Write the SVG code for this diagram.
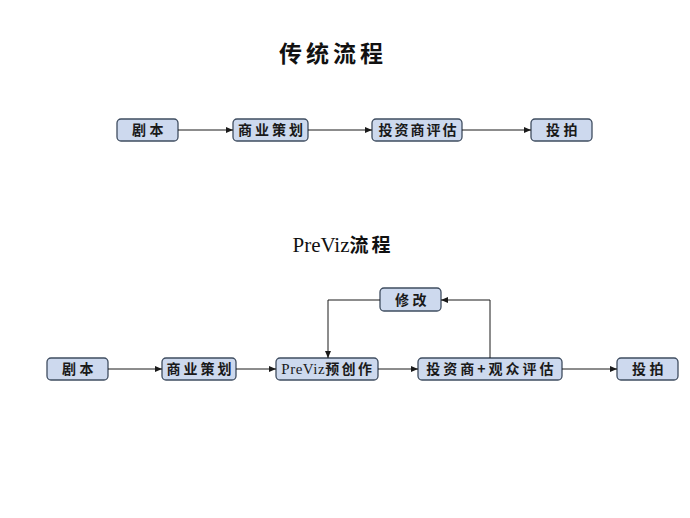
<svg xmlns="http://www.w3.org/2000/svg" width="690" height="518" viewBox="0 0 690 518">
<defs>
<marker id="ah" markerWidth="7" markerHeight="6" refX="7" refY="3" orient="auto" markerUnits="userSpaceOnUse">
<path d="M0,0 L7,3 L0,6 Z" fill="#1a1a1a"/>
</marker>
</defs>
<style>
.box{fill:#cdd9ee;stroke:#3f4d60;stroke-width:1.3}
.lbl{font-family:"Noto Sans CJK SC","Liberation Sans",sans-serif;font-weight:bold;font-size:14px;fill:#1a1a1a;text-anchor:middle;letter-spacing:3.5px}
.pv{font-family:"Liberation Serif",serif;font-weight:normal}
.ttl{font-family:"Noto Sans CJK SC","Liberation Sans",sans-serif;font-weight:bold;font-size:23px;fill:#111;text-anchor:middle;letter-spacing:4px}
.conn path{fill:none;stroke:#1a1a1a;stroke-width:1;marker-end:url(#ah)}
</style>
<rect width="690" height="518" fill="#ffffff"/>
<text class="ttl" x="333" y="62">传统流程</text>
<text class="ttl" x="343" y="252" style="font-size:19px;letter-spacing:3px"><tspan class="pv" style="font-size:21px;letter-spacing:0px">PreViz</tspan>流程</text>

<g id="t1"><rect class="box" x="117" y="119" width="61" height="22" rx="4"/><text class="lbl" x="149.5" y="135">剧本</text></g>
<g id="t2"><rect class="box" x="233" y="119" width="75" height="22" rx="4"/><text class="lbl" x="272" y="135" style="letter-spacing:3px">商业策划</text></g>
<g id="t3"><rect class="box" x="372" y="119" width="90" height="22" rx="4"/><text class="lbl" x="418.5" y="135" style="letter-spacing:2px">投资商评估</text></g>
<g id="t4"><rect class="box" x="531" y="119" width="61" height="22" rx="4"/><text class="lbl" x="563.5" y="135">投拍</text></g>

<g id="b1"><rect class="box" x="47" y="358" width="61" height="22" rx="4"/><text class="lbl" x="79.5" y="374">剧本</text></g>
<g id="b2"><rect class="box" x="162" y="358" width="74" height="22" rx="4"/><text class="lbl" x="200.5" y="374" style="letter-spacing:3px">商业策划</text></g>
<g id="b3"><rect class="box" x="276" y="358" width="102" height="22" rx="4"/><text class="lbl" x="328" y="374" style="letter-spacing:2.5px"><tspan class="pv" style="font-size:15px;letter-spacing:0.5px">PreViz</tspan>预创作</text></g>
<g id="b4"><rect class="box" x="418" y="358" width="144" height="22" rx="4"/><text class="lbl" x="491.5" y="374" style="letter-spacing:3px">投资商+观众评估</text></g>
<g id="b5"><rect class="box" x="617" y="358" width="61" height="22" rx="4"/><text class="lbl" x="649.5" y="374">投拍</text></g>
<g id="b6"><rect class="box" x="380" y="288" width="61" height="23" rx="4"/><text class="lbl" x="412.5" y="304.5">修改</text></g>

<g class="conn">
<path d="M178,130 H233"/>
<path d="M308,130 H372"/>
<path d="M462,130 H531"/>
<path d="M108,369 H162"/>
<path d="M236,369 H276"/>
<path d="M378,369 H418"/>
<path d="M562,369 H617"/>
<path d="M490,358 V300 H441"/>
<path d="M380,300 H328 V358"/>
</g>
</svg>
